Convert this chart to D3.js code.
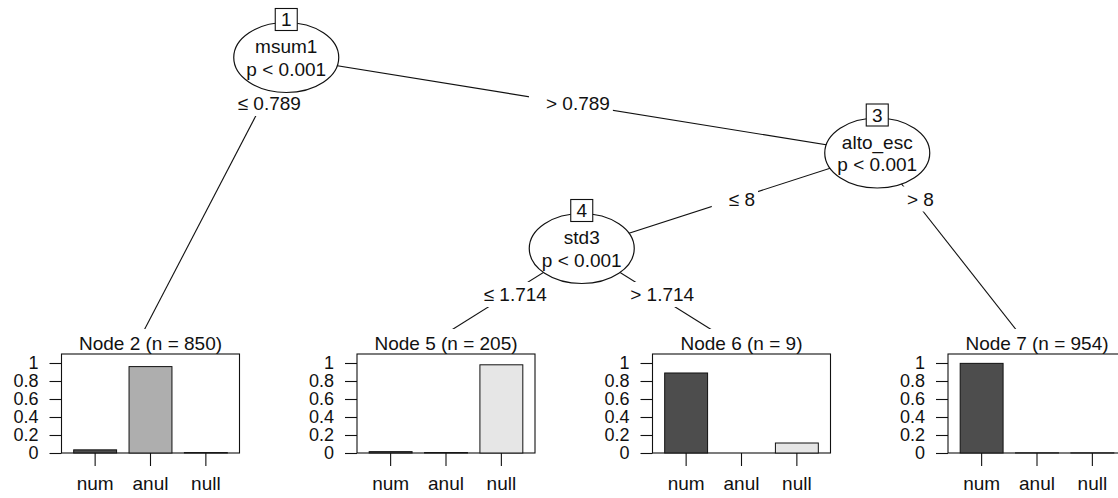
<!DOCTYPE html>
<html>
<head>
<meta charset="utf-8">
<script src="https://cdn.jsdelivr.net/npm/d3@7"></script>
<style>
  html, body { margin: 0; padding: 0; background: #fff; }
  svg { display: block; }
  text { font-family: "Liberation Sans", Arial, Helvetica, sans-serif; fill: #111; }
</style>
</head>
<body>
<svg id="chart" width="1118" height="498"></svg>
<script>
// ---------------- data ----------------
const classLabels = ["num", "anul", "null"];
const classColors = ["#4D4D4D", "#AEAEAE", "#E6E6E6"];

const innerIds = [1, 3, 4];
const innerVars = ["msum1", "alto_esc", "std3"];
const innerPvals = ["p < 0.001", "p < 0.001", "p < 0.001"];

const terminalIds = [2, 5, 6, 7];
const terminalN = [850, 205, 9, 954];
const propNum = [0.035, 0.015, 0.889, 0.996];
const propAnul = [0.960, 0.005, 0.000, 0.002];
const propNull = [0.005, 0.980, 0.111, 0.002];

const edgeParents = [1, 1, 3, 3, 4, 4];
const edgeChildren = [2, 3, 4, 7, 5, 6];
const edgeLabels = ["\u2264 0.789", "> 0.789", "\u2264 8", "> 8", "\u2264 1.714", "> 1.714"];

const yTickValues = [0, 0.2, 0.4, 0.6, 0.8, 1];
const yTickLabels = ["0", "0.2", "0.4", "0.6", "0.8", "1"];

// ---------------- layout ----------------
const svg = d3.select("#chart");
const FS = 19;
const TFS = 18;

// build tree
const kids = {};
edgeParents.forEach((p, i) => { (kids[p] = kids[p] || []).push(edgeChildren[i]); });
const pos = {};
let leafCounter = 0;
function layout(id, depth) {
  if (!kids[id]) { pos[id] = { u: leafCounter++, depth, terminal: true }; return; }
  const [l, r] = kids[id];
  layout(l, depth + 1);
  const boundary = leafCounter - 0.5;
  layout(r, depth + 1);
  pos[id] = { u: boundary, depth, terminal: false };
}
layout(1, 0);

const xs = d3.scaleLinear().domain([0, terminalIds.length - 1]).range([138.5, 1025]);
const ys = d3.scaleLinear().domain([0, 2]).range([57.5, 248.5]);
const termLineY = 341, termTop = 329;
const panelOffset = 12, panelW = 178;
const panelTop = 354, panelBottom = 453;
const yScale = d3.scaleLinear().domain([0, 1.1]).range([panelBottom, panelTop]);

function nodeXY(id) {
  const p = pos[id];
  return p.terminal ? [xs(p.u), termLineY] : [xs(p.u), ys(p.depth)];
}

// ---------------- edges ----------------
const gEdges = svg.append("g");
edgeParents.forEach((p, i) => {
  const c = edgeChildren[i];
  const [x0, y0] = nodeXY(p), [x1, y1] = nodeXY(c);
  gEdges.append("line").attr("x1", x0).attr("y1", y0).attr("x2", x1).attr("y2", y1)
    .attr("stroke", "#111").attr("stroke-width", 1.1);
});
const gLab = svg.append("g");
edgeParents.forEach((p, i) => {
  const c = edgeChildren[i];
  const [x0, y0] = nodeXY(p), [x1, y1] = nodeXY(c);
  const ly = y0 + 46;
  const lx = x0 + (x1 - x0) * (ly - y0) / (y1 - y0);
  const t = gLab.append("text").attr("x", lx + 7).attr("y", ly)
    .attr("text-anchor", "middle").attr("dominant-baseline", "central")
    .style("font-size", FS + "px").text(edgeLabels[i]);
  const tw = t.node().getComputedTextLength();
  gLab.insert("rect", "text").attr("x", lx - (tw + 20) / 2).attr("y", ly - 12.5)
    .attr("width", tw + 20).attr("height", 25).attr("fill", "#fff");
});

// ---------------- terminal panels ----------------
const gTerm = svg.append("g");
terminalIds.forEach((id, k) => {
  const nx = xs(pos[id].u);
  const pc = nx + panelOffset;
  const pl = pc - panelW / 2, pr = pc + panelW / 2;
  const g = gTerm.append("g");
  g.append("rect").attr("x", pl - 48).attr("y", termTop).attr("width", panelW + 72)
    .attr("height", 498 - termTop).attr("fill", "#fff");
  g.append("text").attr("x", pc).attr("y", 350).attr("text-anchor", "middle")
    .style("font-size", FS + "px").text(`Node ${id} (n = ${terminalN[k]})`);
  const xb = d3.scaleBand().domain(classLabels).range([pl, pr])
    .paddingInner(0.225).paddingOuter(0.22);
  const vals = [propNum[k], propAnul[k], propNull[k]];
  g.append("rect").attr("x", pl).attr("y", panelTop).attr("width", panelW)
    .attr("height", panelBottom - panelTop).attr("fill", "#fff").attr("stroke", "#111").attr("stroke-width", 1.1);
  classLabels.forEach((cl, j) => {
    g.append("rect").attr("x", xb(cl)).attr("y", yScale(vals[j]))
      .attr("width", xb.bandwidth()).attr("height", Math.max(0, panelBottom - yScale(vals[j])))
      .attr("fill", classColors[j]).attr("stroke", "#111").attr("stroke-width", 1);
  });
  // y axis
  const ya = d3.axisLeft(yScale).tickValues(yTickValues)
    .tickFormat((d, i) => yTickLabels[i]).tickSize(12).tickPadding(11);
  const yg = g.append("g").attr("transform", `translate(${pl},0)`).call(ya);
  yg.select(".domain").remove();
  yg.selectAll("line").attr("stroke", "#111").attr("stroke-width", 1.1);
  yg.selectAll("text").style("font-size", TFS + "px").attr("fill", "#111")
    .style("font-family", '"Liberation Sans", Arial, sans-serif');
  // x axis
  const xa = d3.axisBottom(xb).tickSize(13).tickPadding(0);
  const xg = g.append("g").attr("transform", `translate(0,${panelBottom})`).call(xa);
  xg.select(".domain").remove();
  xg.selectAll("line").attr("stroke", "#111").attr("stroke-width", 1.1);
  xg.selectAll("text").style("font-size", FS + "px").attr("fill", "#111")
    .style("font-family", '"Liberation Sans", Arial, sans-serif')
    .attr("dy", null).attr("y", 37);
});

// ---------------- inner nodes ----------------
const gNodes = svg.append("g");
innerIds.forEach((id, k) => {
  const [x, y] = nodeXY(id);
  gNodes.append("ellipse").attr("cx", x).attr("cy", y).attr("rx", 52.5).attr("ry", 35)
    .attr("fill", "#fff").attr("stroke", "#111").attr("stroke-width", 1.2);
  gNodes.append("text").attr("x", x).attr("y", y - 11).attr("text-anchor", "middle")
    .attr("dominant-baseline", "central").style("font-size", FS + "px").text(innerVars[k]);
  gNodes.append("text").attr("x", x).attr("y", y + 11.5).attr("text-anchor", "middle")
    .attr("dominant-baseline", "central").style("font-size", FS + "px").text(innerPvals[k]);
  gNodes.append("rect").attr("x", x - 11).attr("y", y - 49).attr("width", 22).attr("height", 22)
    .attr("fill", "#fff").attr("stroke", "#111").attr("stroke-width", 1.1);
  gNodes.append("text").attr("x", x).attr("y", y - 38).attr("text-anchor", "middle")
    .attr("dominant-baseline", "central").style("font-size", FS + "px").text(id);
});
</script>
</body>
</html>
